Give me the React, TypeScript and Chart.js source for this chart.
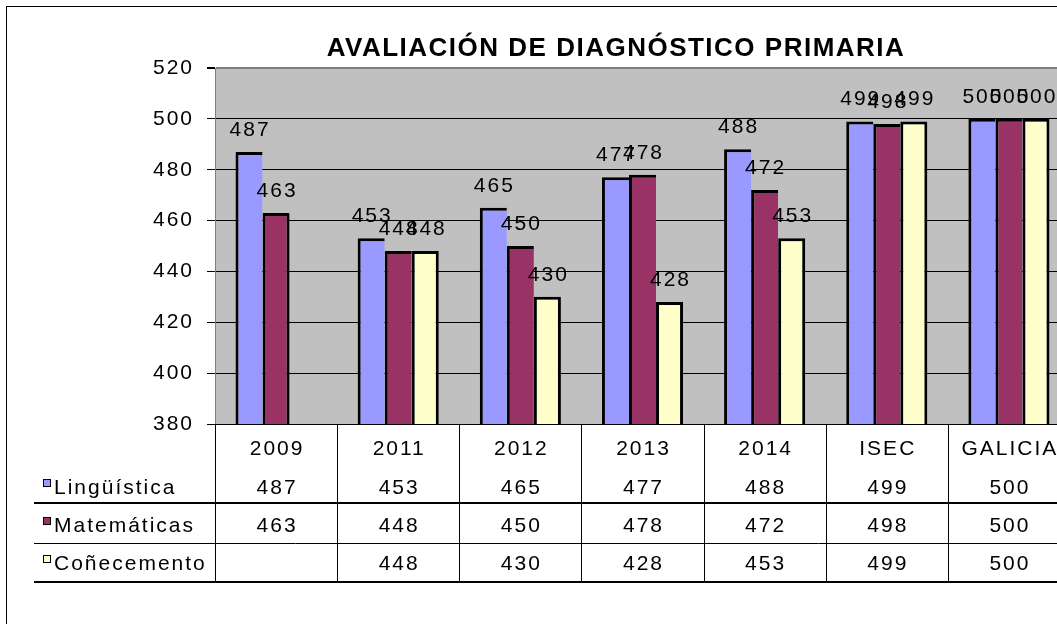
import { useEffect, useRef } from 'react';
import { Chart, registerables } from 'chart.js';

Chart.register(...registerables);

const chartTitle = 'AVALIACIÓN DE DIAGNÓSTICO PRIMARIA';
const categories = ['2009', '2011', '2012', '2013', '2014', 'ISEC', 'GALICIA'];
const linguistica = [487, 453, 465, 477, 488, 499, 500];
const matematicas = [463, 448, 450, 478, 472, 498, 500];
const conecemento = [null, 448, 430, 428, 453, 499, 500];
const seriesNames = ['Lingüística', 'Matemáticas', 'Coñecemento'];
const seriesColors = ['#9999FF', '#993366', '#FFFFCC'];
const yMin = 380;
const yMax = 520;
const yStep = 20;

const FONT = '"Liberation Sans", Arial, Helvetica, sans-serif';
const CANVAS_W = 1080;
const CANVAS_H = 624;

export default function App() {
  const ref = useRef<HTMLCanvasElement | null>(null);

  useEffect(() => {
    const canvas = ref.current;
    if (!canvas) return;
    const seriesValues = [linguistica, matematicas, conecemento];

    const isLastInGroup = (di: number, i: number) => {
      for (let k = di + 1; k < seriesValues.length; k++) {
        const v = seriesValues[k][i];
        if (v !== null && v !== undefined) return false;
      }
      return true;
    };

    const decor = {
      id: 'decor',
      beforeDraw(chart: any) {
        const { ctx, chartArea } = chart;
        ctx.save();
        ctx.fillStyle = '#ffffff';
        ctx.fillRect(0, 0, chart.width, chart.height);
        ctx.fillStyle = '#C0C0C0';
        ctx.fillRect(chartArea.left, chartArea.top, chartArea.right - chartArea.left, chartArea.bottom - chartArea.top);
        ctx.restore();
        (ctx as any).letterSpacing = '2px';
      },
      afterDatasetsDraw(chart: any) {
        const { ctx } = chart;
        ctx.save();
        (ctx as any).letterSpacing = '2px';
        ctx.font = `21px ${FONT}`;
        ctx.fillStyle = '#000';
        ctx.textAlign = 'center';
        ctx.textBaseline = 'alphabetic';
        chart.data.datasets.forEach((ds: any, di: number) => {
          const meta = chart.getDatasetMeta(di);
          meta.data.forEach((el: any, i: number) => {
            const v = ds.data[i];
            if (v === null || v === undefined) return;
            ctx.fillText(String(v), el.x + 1, el.y - 16);
          });
        });
        ctx.restore();
      },
      afterDraw(chart: any) {
        const { ctx, chartArea } = chart;
        const xs = chart.scales.x;
        const n = categories.length;
        const cw = (chartArea.right - chartArea.left) / n;
        ctx.save();
        // outer frame
        ctx.strokeStyle = '#000';
        ctx.lineWidth = 1;
        ctx.strokeRect(6.5, 6.5, 3000, 3000);
        // title
        (ctx as any).letterSpacing = '1.5px';
        ctx.font = `bold 26px ${FONT}`;
        ctx.fillStyle = '#000';
        ctx.textAlign = 'center';
        ctx.textBaseline = 'alphabetic';
        ctx.fillText(chartTitle, 616, 56);
        (ctx as any).letterSpacing = '2px';

        // data table
        const top = chartArea.bottom;
        const rowBase = [494, 532, 570];
        const headerBase = 455;
        const lines = [
          { y: 503, w: 2 },
          { y: 543.5, w: 1 },
          { y: 582, w: 2 },
        ];
        ctx.strokeStyle = '#000';
        lines.forEach((l) => {
          ctx.lineWidth = l.w;
          ctx.beginPath();
          ctx.moveTo(34, l.y);
          ctx.lineTo(chart.width, l.y);
          ctx.stroke();
        });
        ctx.lineWidth = 1;
        for (let i = 0; i <= n; i++) {
          const x = Math.round(chartArea.left + i * cw) + 0.5;
          ctx.beginPath();
          ctx.moveTo(x, top);
          ctx.lineTo(x, 583);
          ctx.stroke();
        }
        ctx.font = `21px ${FONT}`;
        ctx.textAlign = 'center';
        categories.forEach((c, i) => {
          const cx = xs.getPixelForValue(i);
          ctx.fillText(c, cx + 1, headerBase);
          seriesValues.forEach((arr, si) => {
            const v = arr[i];
            if (v === null || v === undefined) return;
            ctx.fillText(String(v), cx + 1, rowBase[si]);
          });
        });
        ctx.textAlign = 'left';
        seriesNames.forEach((name, si) => {
          const b = rowBase[si];
          ctx.fillStyle = seriesColors[si];
          ctx.fillRect(43, b - 15, 8, 8);
          ctx.strokeStyle = '#000';
          ctx.lineWidth = 1;
          ctx.strokeRect(43.5, b - 14.5, 7, 7);
          ctx.fillStyle = '#000';
          ctx.fillText(name, 54, b);
        });
        ctx.restore();
      },
    };

    const chart = new Chart(canvas, {
      type: 'bar',
      data: {
        labels: categories,
        datasets: seriesNames.map((name, si) => ({
          label: name,
          data: seriesValues[si] as any,
          backgroundColor: seriesColors[si],
          borderColor: '#000000',
          borderWidth: (c: any) => ({
            top: 3,
            left: 3,
            right: isLastInGroup(c.datasetIndex, c.dataIndex) ? 3 : 0,
            bottom: 0,
          }),
          borderSkipped: 'bottom' as const,
          inflateAmount: 0,
          categoryPercentage: 0.664,
          barPercentage: 1,
        })),
      },
      options: {
        responsive: false,
        animation: false,
        devicePixelRatio: 1,
        layout: { padding: { top: 68, right: CANVAS_W - 1070, bottom: CANVAS_H - 424, left: 0 } },
        plugins: {
          legend: { display: false },
          title: { display: false },
          tooltip: { enabled: false },
        },
        scales: {
          x: { display: false },
          y: {
            min: yMin,
            max: yMax,
            afterFit: (scale: any) => {
              scale.width = 215;
            },
            ticks: {
              stepSize: yStep,
              color: '#000',
              padding: 13,
              font: { family: FONT, size: 21 },
            },
            grid: {
              color: (c: any) => (c.tick && c.tick.value === yMax ? '#808080' : '#000'),
              lineWidth: (c: any) => (c.tick && c.tick.value === yMax ? 2 : 1),
              tickColor: '#000',
              tickLength: 8,
            },
            border: { color: '#808080', width: 1 },
          },
        },
      },
      plugins: [decor],
    });
    return () => chart.destroy();
  }, []);

  return (
    <div style={{ position: 'absolute', left: 0, top: 0, width: 1057, height: 624, overflow: 'hidden', background: '#fff' }}>
      <canvas ref={ref} width={CANVAS_W} height={CANVAS_H} style={{ display: 'block', width: CANVAS_W, height: CANVAS_H }} />
    </div>
  );
}
